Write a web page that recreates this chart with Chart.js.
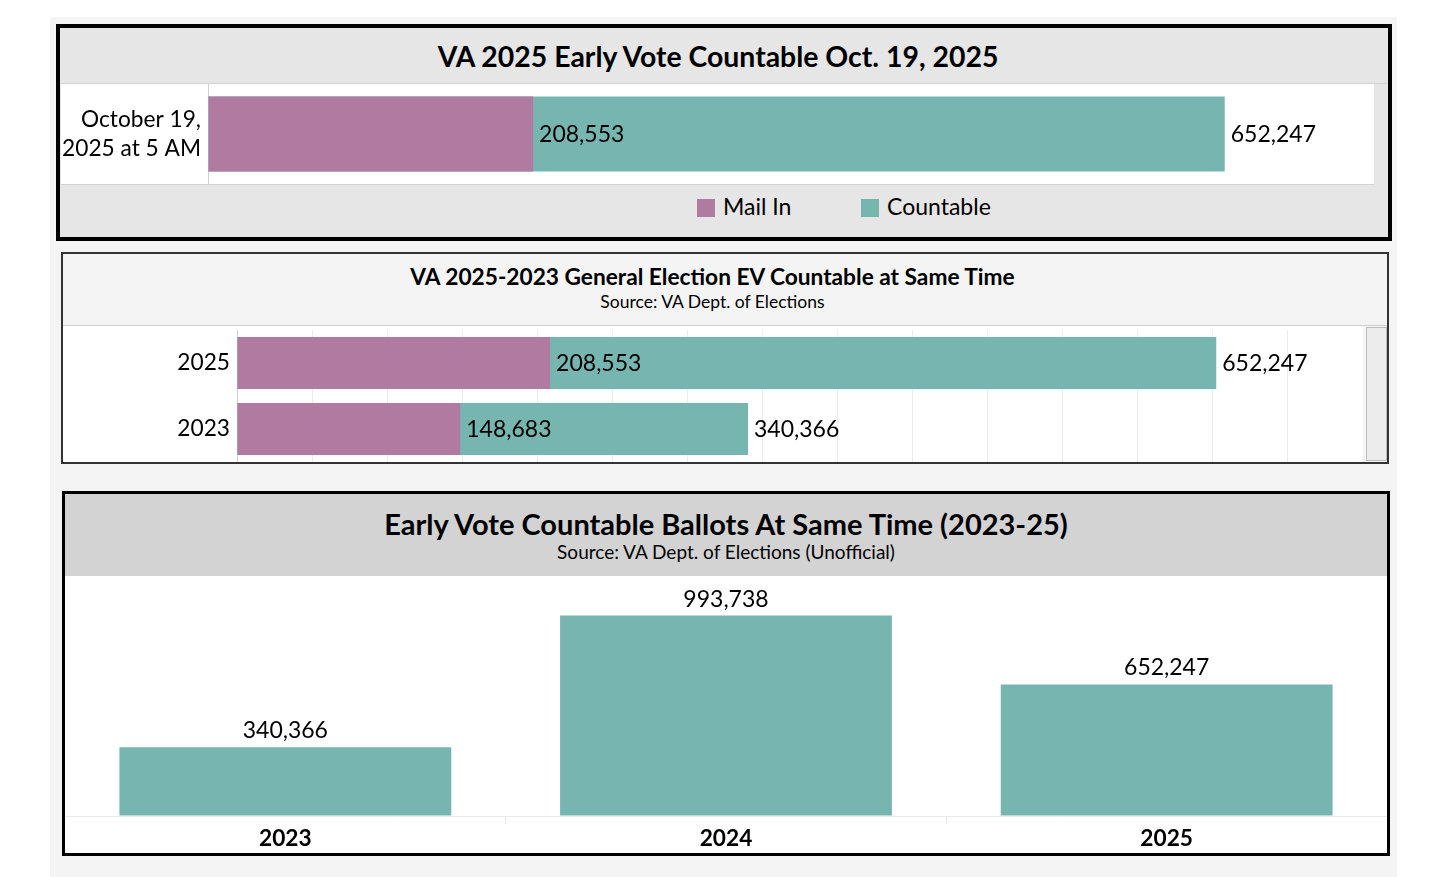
<!DOCTYPE html>
<html>
<head>
<meta charset="utf-8">
<script src="https://cdn.jsdelivr.net/npm/chart.js@4.4.1/dist/chart.umd.min.js"></script>
<style>
  body { margin: 0; background: #fff; font-family: Lato, 'Open Sans', sans-serif; color: #000; }
  .abs { position: absolute; box-sizing: border-box; }
  .titulo { text-align: center; font-weight: bold; white-space: nowrap; }
  .sub { text-align: center; white-space: nowrap; }
  .caja { background: #fff; }
  .leyenda { font-size: 23px; line-height: 24px; white-space: nowrap; }
  .cuadro { display: inline-block; width: 18px; height: 18px; vertical-align: -2px; margin-right: 8px; }
</style>
</head>
<body>
<!-- fondo del tablero -->
<div class="abs" style="left:50px;top:17px;width:1347px;height:860px;background:#f4f4f4"></div>

<!-- Panel 1 -->
<div class="abs" style="left:56px;top:24px;width:1336px;height:217px;border:4px solid #000;background:#e6e6e6"></div>
<div class="abs titulo" style="left:56px;top:39px;width:1324px;font-size:28.4px;line-height:34px">VA 2025 Early Vote Countable Oct. 19, 2025</div>
<div class="abs" style="left:60px;top:83px;width:1327px;height:1px;background:#d2d2d2"></div>
<div class="abs caja" style="left:61px;top:84px;width:1313px;height:100px">
  <canvas id="chartOct"></canvas>
</div>
<div class="abs" style="left:61px;top:184px;width:1313px;height:1px;background:#d2d2d2"></div>
<div class="abs leyenda" style="left:697px;top:194px">
  <span class="cuadro" style="background:#b07aa1"></span>Mail In
</div>
<div class="abs leyenda" style="left:861px;top:194px">
  <span class="cuadro" style="background:#76b5b0"></span>Countable
</div>

<!-- Panel 2 -->
<div class="abs" style="left:61px;top:252px;width:1328px;height:212px;border:2px solid #333;background:#f4f4f4"></div>
<div class="abs titulo" style="left:62px;top:262px;width:1301px;font-size:22.7px;line-height:30px">VA 2025-2023 General Election EV Countable at Same Time</div>
<div class="abs sub" style="left:62px;top:291px;width:1301px;font-size:17.5px;line-height:22px">Source: VA Dept. of Elections</div>
<div class="abs" style="left:63px;top:325px;width:1324px;height:1px;background:#cfcfcf"></div>
<div class="abs caja" style="left:63px;top:326px;width:1300px;height:136px">
  <canvas id="chartComp"></canvas>
</div>
<div class="abs" style="left:1366px;top:327px;width:21px;height:134px;background:#ececec;border:1px solid #bdbdbd"></div>

<!-- Panel 3 -->
<div class="abs" style="left:62px;top:491px;width:1328px;height:365px;border:3px solid #000;background:#fff"></div>
<div class="abs" style="left:65px;top:494px;width:1322px;height:82px;background:#d3d3d3"></div>
<div class="abs titulo" style="left:62px;top:506px;width:1328px;font-size:29px;line-height:36px">Early Vote Countable Ballots At Same Time (2023-25)</div>
<div class="abs sub" style="left:62px;top:541px;width:1328px;font-size:19px;line-height:22px">Source: VA Dept. of Elections (Unofficial)</div>
<div class="abs caja" style="left:65px;top:576px;width:1322px;height:277px">
  <canvas id="chartAnios"></canvas>
</div>

<script>
// Datos
const etiquetaOct = [['October 19,', '2025 at 5 AM']];
const mailInOct = [208553];
const countableOct = [652247];

const aniosComp = ['2025', '2023'];
const mailInComp = [208553, 148683];
const countableComp = [652247, 340366];

const aniosBarras = ['2023', '2024', '2025'];
const countableBarras = [340366, 993738, 652247];

const colorMail = '#b07aa1';
const colorCountable = '#76b5b0';
const fuente = "Lato, 'Open Sans', sans-serif";

// Etiquetas de valores al final de cada barra
const etiquetasPlugin = {
    id: 'etiquetas',
    afterDatasetsDraw(chart) {
        const ctx = chart.ctx;
        ctx.save();
        ctx.font = '23px ' + fuente;
        ctx.fillStyle = '#000';
        chart.data.datasets.forEach((ds, i) => {
            const meta = chart.getDatasetMeta(i);
            meta.data.forEach((bar, j) => {
                const txt = ds.data[j].toLocaleString('en-US');
                if (chart.options.indexAxis === 'y') {
                    ctx.textAlign = 'left';
                    ctx.textBaseline = 'middle';
                    ctx.fillText(txt, bar.x + 6, bar.y + 1);
                } else {
                    ctx.textAlign = 'center';
                    ctx.textBaseline = 'bottom';
                    ctx.fillText(txt, bar.x, bar.y - 5);
                }
            });
        });
        ctx.restore();
    }
};

Chart.defaults.font.family = fuente;
Chart.defaults.color = '#000';
Chart.defaults.animation = false;

function opcionesHorizontales(maximo, anchoEtiquetas, padArriba) {
    return {
        indexAxis: 'y',
        responsive: true,
        maintainAspectRatio: false,
        layout: { autoPadding: false, padding: { top: padArriba, bottom: 0, left: 0, right: 0 } },
        plugins: { legend: { display: false }, tooltip: { enabled: false } },
        scales: {
            x: {
                stacked: false,
                min: 0,
                max: maximo,
                ticks: { display: false, stepSize: 50000 },
                grid: {
                    drawTicks: false,
                    color: (c) => (c.tick && c.tick.value % 50000 === 0 && c.tick.value > 0) ? '#ececec' : 'transparent'
                },
                border: { display: false },
                afterFit(s) { s.height = 0; s.paddingLeft = 0; s.paddingRight = 0; }
            },
            y: {
                stacked: true,
                ticks: { font: { size: 22.7, lineHeight: 1.25 }, padding: 7 },
                grid: { display: false, drawTicks: false },
                border: { display: true, color: '#d2d2d2' },
                afterFit(s) { s.width = anchoEtiquetas; s.paddingTop = 0; s.paddingBottom = 0; }
            }
        }
    };
}

// Gráfico 1: 19 de octubre
new Chart(document.getElementById('chartOct'), {
    type: 'bar',
    data: {
        labels: etiquetaOct,
        datasets: [{
            label: 'Mail In',
            data: mailInOct,
            backgroundColor: colorMail,
            barPercentage: 0.75,
            categoryPercentage: 1
        }, {
            label: 'Countable',
            data: countableOct,
            backgroundColor: colorCountable,
            barPercentage: 0.75,
            categoryPercentage: 1
        }]
    },
    options: opcionesHorizontales(748000, 147, 0),
    plugins: [etiquetasPlugin]
});

// Gráfico 2: 2025 vs 2023
new Chart(document.getElementById('chartComp'), {
    type: 'bar',
    data: {
        labels: aniosComp,
        datasets: [{
            label: 'Mail In',
            data: mailInComp,
            backgroundColor: colorMail,
            barPercentage: 0.79,
            categoryPercentage: 1
        }, {
            label: 'Countable',
            data: countableComp,
            backgroundColor: colorCountable,
            barPercentage: 0.79,
            categoryPercentage: 1
        }]
    },
    options: opcionesHorizontales(750000, 174, 4),
    plugins: [etiquetasPlugin]
});

// Gráfico 3: barras por año
new Chart(document.getElementById('chartAnios'), {
    type: 'bar',
    data: {
        labels: aniosBarras,
        datasets: [{
            label: 'Countable',
            data: countableBarras,
            backgroundColor: colorCountable,
            barPercentage: 0.753,
            categoryPercentage: 1
        }]
    },
    options: {
        responsive: true,
        maintainAspectRatio: false,
        layout: { autoPadding: false, padding: 0 },
        plugins: { legend: { display: false }, tooltip: { enabled: false } },
        scales: {
            x: {
                ticks: { font: { size: 22.7, weight: 'bold' }, padding: 1 },
                grid: { drawOnChartArea: false, tickLength: 8, color: '#e8e8e8', offset: true },
                border: { display: false },
                afterFit(s) { s.height = 37; s.paddingLeft = 0; s.paddingRight = 0; }
            },
            y: {
                min: 0,
                max: 1190000,
                ticks: { display: false, stepSize: 500000 },
                grid: {
                    drawTicks: false,
                    color: (c) => (c.tick && c.tick.value % 500000 === 0) ? '#ebebeb' : 'transparent'
                },
                border: { display: false },
                afterFit(s) { s.width = 0; s.paddingTop = 0; s.paddingBottom = 0; }
            }
        }
    },
    plugins: [etiquetasPlugin]
});
</script>
</body>
</html>
